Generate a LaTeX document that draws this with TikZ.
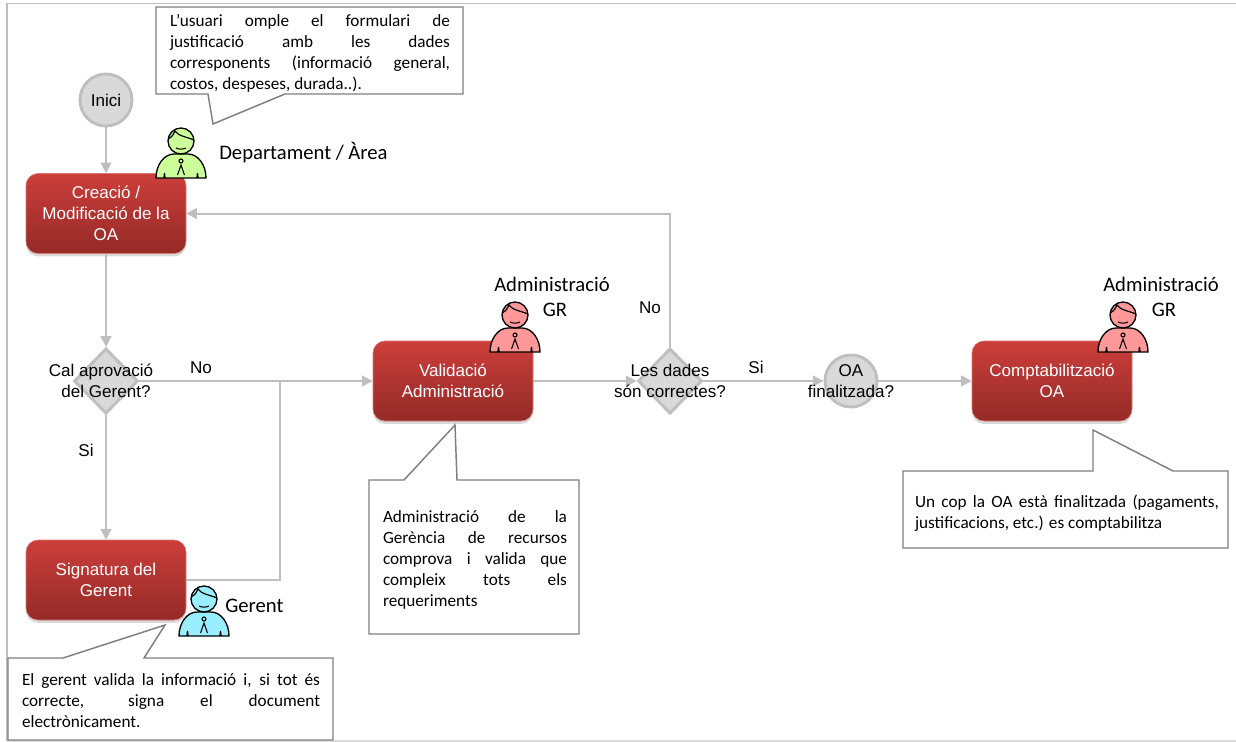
\documentclass[tikz,border=0pt]{standalone}
\usepackage{fontspec}
\setmainfont{Carlito}
\newfontfamily\flowfont{Liberation Sans}
\usetikzlibrary{arrows.meta,shapes.geometric,shadows}
\definecolor{flowgrey}{HTML}{BFBFBF}
\definecolor{flowfill}{HTML}{D9D9D9}
\definecolor{notegrey}{HTML}{7F7F7F}
\definecolor{redtop}{HTML}{CC3E3B}
\definecolor{redmid}{HTML}{B73633}
\definecolor{redbottom}{HTML}{942A27}
\definecolor{staffgreen}{HTML}{CCFF99}
\definecolor{staffblue}{HTML}{99EEFF}
\definecolor{staffred}{HTML}{FF9999}
\tikzset{
  taskbox/.style={rectangle, rounded corners=9pt, minimum width=120pt, minimum height=60pt, inner sep=0pt,
    top color=redtop, middle color=redmid, bottom color=redbottom, draw=redtop!70!white, line width=0.4pt,
    drop shadow={shadow xshift=0pt, shadow yshift=-2.2pt, opacity=0.3},
    text=white, align=center, font=\flowfont\fontsize{12.8}{15.75}\selectfont},
  startdot/.style={circle, draw=flowgrey, fill=flowfill, line width=2.2pt, minimum size=39pt, inner sep=0pt},
  gateway/.style={diamond, draw=flowgrey, fill=flowfill, line width=2.2pt, minimum width=48pt, minimum height=49pt, inner sep=0pt},
  flowtext/.style={align=center, inner sep=0pt, font=\flowfont\fontsize{12.8}{15.75}\selectfont},
  roletext/.style={align=center, inner sep=0pt, font=\fontsize{15.5}{18.75}\selectfont},
  notetext/.style={align=justify, inner sep=0pt, font=\fontsize{12.9}{15.75}\selectfont},
  noteline/.style={draw=notegrey, fill=white, line width=1.1pt},
  flowline/.style={draw=flowgrey, line width=1.5pt},
  flowarrow/.style={flowline, -{Triangle[length=8pt,width=8pt]}},
  pics/staff/.style={code={
    \draw[fill=#1, line width=1pt] (-25,0) .. controls (-25,-13) and (-17,-24) .. (-7,-24) -- (7,-24) .. controls (17,-24) and (25,-13) .. (25,0) -- (17,0) -- (16.5,-5) -- (16,0) -- (-16,0) -- (-16.5,-5) -- (-17,0) -- cycle;
    \draw[fill=#1, line width=1pt] (0,-37) circle [radius=13];
    \draw[line width=0.9pt] (-13,-39) .. controls (-9,-41) and (-7,-44) .. (-6,-47) .. controls (-3,-42) and (6,-41) .. (13,-38);
    \draw[line width=0.8pt] (-5,-30) .. controls (-2,-28.5) and (2,-28.5) .. (5,-30);
    \draw[line width=0.8pt] (0,-17) circle [radius=2];
    \draw[line width=0.8pt] (-3.5,-3) -- (0,-13) -- (3.5,-3);
  }}
}
\begin{document}
\begin{tikzpicture}[x=0.75pt, y=-0.75pt]
  \useasboundingbox (0,0) rectangle (1236,742);
  % Frame
  \draw[draw=flowgrey, line width=1.2pt] (7,3.5) -- (1236,3.5);
  \draw[draw=flowgrey, line width=1.2pt] (7,3.5) -- (7,741);
  \draw[draw=flowfill, line width=0.8pt] (7,741) -- (1236,741);
  % Nodes
  \node (inici) [startdot] at (106,100) {};
  \node (creacio) [taskbox] at (106,213.5) {Creació /\\Modificació de la\\OA};
  \node (aprovacio) [gateway] at (106,381) {};
  \node (signatura) [taskbox] at (106,580) {Signatura del\\Gerent};
  \node (validacio) [taskbox] at (453,381) {Validació\\Administració};
  \node (dades) [gateway] at (670,381) {};
  \node (finalitzada) [startdot] at (851,381) {};
  \node (comptabilitzacio) [taskbox] at (1052,381) {Comptabilització\\OA};
  \coordinate (joinflow) at (280,381);
  % Arrows
  \draw[flowarrow] (inici) -- (creacio);
  \draw[flowarrow] (creacio) -- (aprovacio);
  \draw[flowarrow] (aprovacio) -- (signatura);
  \draw[flowarrow] (aprovacio) -- (validacio);
  \draw[flowline] (signatura.east) -| (joinflow);
  \draw[flowarrow] (validacio) -- (dades);
  \draw[flowarrow] (dades) |- (creacio.east);
  \draw[flowarrow] (dades) -- (finalitzada);
  \draw[flowarrow] (finalitzada) -- (comptabilitzacio);
  % Flow labels
  \node (initext) [flowtext] at (106,100) {Inici};
  \node (aprotext) [flowtext] at (101,381) {Cal aprovació\\\hspace*{7.5pt}del Gerent?};
  \node (dadestext) [flowtext] at (670,381) {Les dades\\són correctes?};
  \node (fitext) [flowtext] at (851,381) {OA\\finalitzada?};
  \node (nolow) [flowtext] at (201,368) {No};
  \node (silow) [flowtext] at (86,450) {Si};
  \node (noup) [flowtext] at (650,308) {No};
  \node (siright) [flowtext] at (756,367) {Si};
  % Staff
  \pic at (181,178) {staff=staffgreen};
  \pic at (204,636) {staff=staffblue};
  \pic at (515,352) {staff=staffred};
  \pic at (1123,352) {staff=staffred};
  \node (deptrole) [roletext, anchor=west] at (219,153) {Departament / Àrea};
  \node (gerentrole) [roletext, anchor=west] at (225,606) {Gerent};
  \node (adminrole) [roletext] at (552,297) {Administració\\\hspace*{4.5pt}GR};
  \node (comptarole) [roletext] at (1161,296.5) {Administració\\\hspace*{4.5pt}GR};
  % Callouts
  \draw[noteline] (156,7) -- (463,7) -- (463,94) -- (285,94) -- (213,124) -- (208,94) -- (156,94) -- cycle;
  \node (usernote) [notetext, text width=210pt] at (310,53) {L’usuari omple el formulari de\linebreak justificació amb les dades\linebreak corresponents (informació general,\linebreak costos, despeses, durada..).};
  \draw[noteline] (369,480) -- (404,480) -- (455,425) -- (457,480) -- (579,480) -- (579,634) -- (369,634) -- cycle;
  \node (adminnote) [notetext, text width=138pt] at (475,559.5) {Administració de la\linebreak Gerència de recursos\linebreak comprova i valida que\linebreak compleix tots els\linebreak requeriments};
  \draw[noteline] (903,471) -- (1093,471) -- (1093,430) -- (1173,471) -- (1228,471) -- (1228,548) -- (903,548) -- cycle;
  \node (comptanote) [notetext, text width=228pt] at (1067,513) {Un cop la OA està finalitzada (pagaments,\linebreak justificacions, etc.) es comptabilitza};
  \draw[noteline] (8,658) -- (63,658) -- (165,625) -- (144,658) -- (333,658) -- (333,740) -- (8,740) -- cycle;
  \node (gerentnote) [notetext, text width=223.5pt] at (171,701) {El gerent valida la informació i, si tot és\linebreak correcte, signa el document\linebreak electrònicament.};
\end{tikzpicture}
\end{document}
